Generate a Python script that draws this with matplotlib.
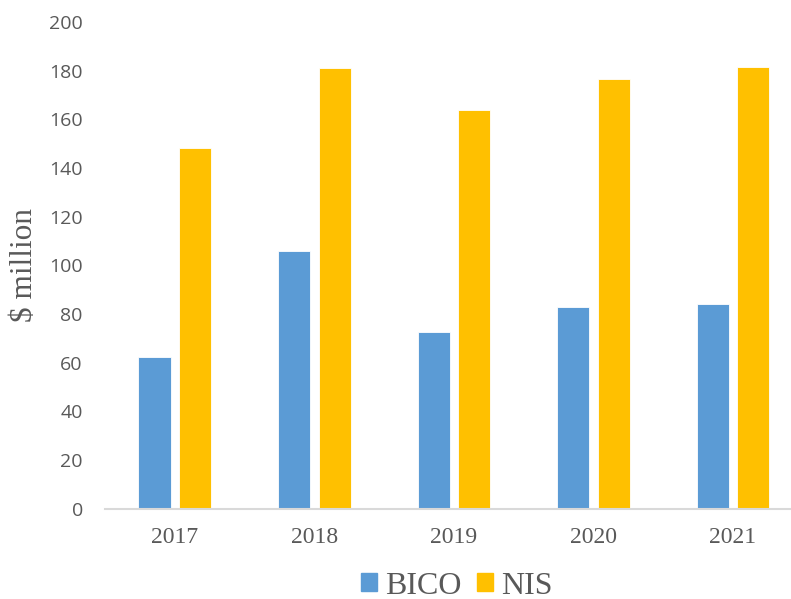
import numpy as np
import matplotlib.pyplot as plt
from matplotlib.patches import Patch

years = ['2017', '2018', '2019', '2020', '2021']
bico = [62.4, 105.7, 72.4, 82.9, 83.9]
nis = [148.3, 181.0, 163.7, 176.7, 181.5]

blue = '#5b9bd5'
gold = '#ffc000'

fig = plt.figure(figsize=(7.91, 5.99), dpi=100)
ax = fig.add_axes([105/791, 90.5/599, 1 - 105/791, 486.5/599])

X = np.arange(len(years))
w = 0.23
ax.bar(X - 0.145, bico, width=w, color=blue, edgecolor='white', linewidth=0.6, zorder=2)
ax.bar(X + 0.145, nis, width=w, color=gold, edgecolor='white', linewidth=0.6, zorder=2)

ax.set_xlim(-0.5, 4.416)
ax.set_ylim(0, 200)
ax.set_yticks(range(0, 201, 20))
ax.set_xticks(X)
ax.set_xticklabels(years, family='Liberation Serif', fontsize=17, color='#595959')
for t in ax.get_yticklabels():
    t.set_family('Open Sans')
    t.set_fontsize(14)
    t.set_color('#595959')

for s in ['top', 'right', 'left']:
    ax.spines[s].set_visible(False)
ax.spines['bottom'].set_color('#d9d9d9')
ax.spines['bottom'].set_linewidth(1.5)
ax.tick_params(axis='both', length=0)
ax.tick_params(axis='x', pad=13)
ax.tick_params(axis='y', pad=16)

ax.set_ylabel('$ million', family='Liberation Serif', fontsize=22.5, color='#595959')
ax.yaxis.set_label_coords(-66/686, 0.5)

handles = [Patch(color=blue, label='BICO'), Patch(color=gold, label='NIS')]
fig.legend(handles=handles, loc='center', bbox_to_anchor=(457/791, 1 - 586/599), ncol=2,
           frameon=False, prop={'family': 'Liberation Serif', 'size': 23},
           handlelength=0.5, handleheight=0.5, handletextpad=0.25, columnspacing=0.5,
           labelcolor='#595959', borderpad=0)

fig.savefig('out.png', dpi=100)
